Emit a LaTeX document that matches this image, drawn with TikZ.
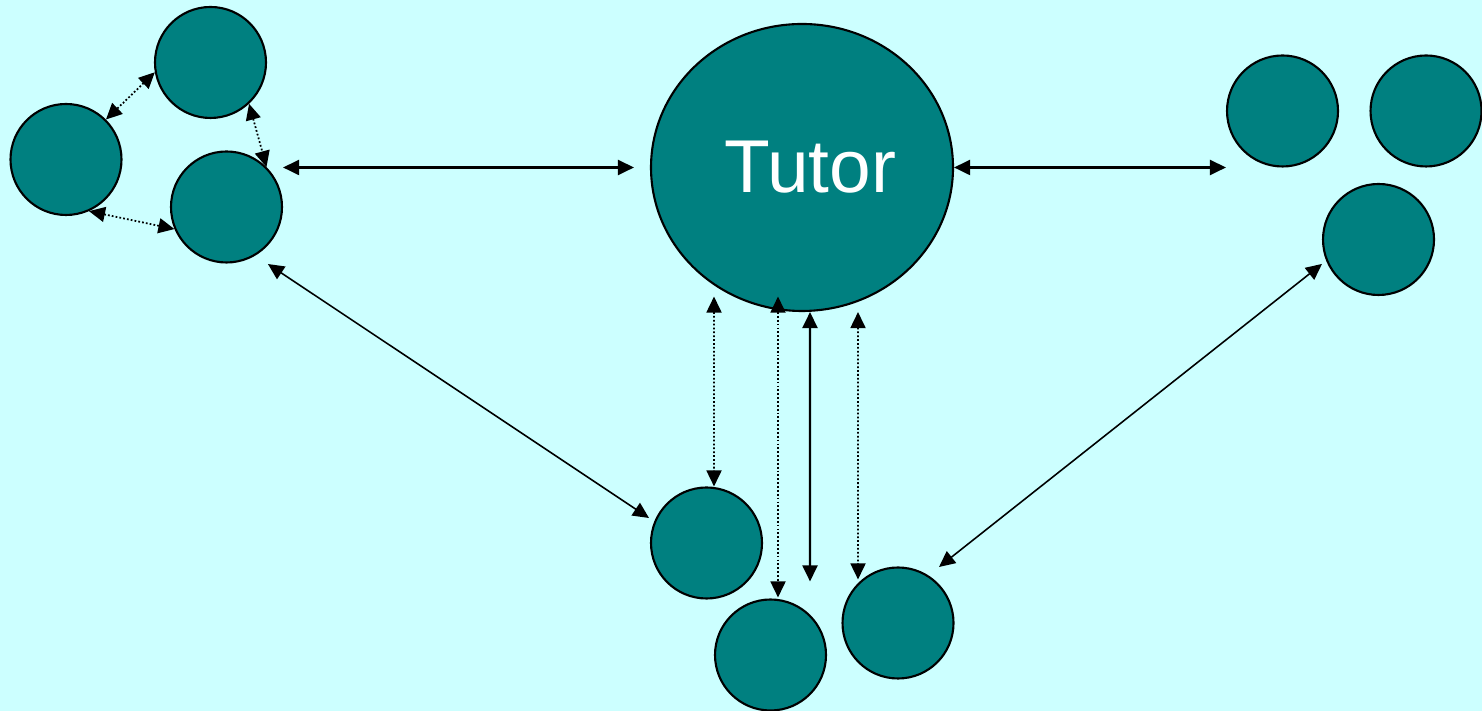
\documentclass[tikz,border=0pt]{standalone}
\usepackage{fontspec}
\setmainfont{Liberation Sans}
\usepackage{tikz}
\usetikzlibrary{calc,arrows.meta,shapes.geometric}
\usepackage{xcolor}
\definecolor{bgcyan}{RGB}{204,255,255}
\definecolor{pupilteal}{RGB}{0,128,128}
\tikzset{
	pupil/.style={circle,draw=black,line width=0.6pt,fill=pupilteal,minimum size=1.11cm,inner sep=0pt},
	tutor/.style={ellipse,draw=black,line width=0.6pt,fill=pupilteal,minimum width=3.02cm,minimum height=2.87cm,inner sep=0pt,text=white,font=\fontsize{21.3}{24}\selectfont},
	link/.style={line width=0.6pt,{Triangle[length=0.16cm,width=0.15cm]}-{Triangle[length=0.16cm,width=0.15cm]}},
	thinlink/.style={link,line width=0.45pt},
	dotlink/.style={link,line width=0.5pt,dash pattern=on 0.5pt off 0.6pt},
}
\newcommand{\pupil}[2]{\node[pupil] (#1) at (#2) {};}

\begin{document}
\begin{tikzpicture}
		\fill[bgcyan] (0,0) rectangle (14.82,7.11);
		\useasboundingbox (0,0) rectangle (14.82,7.11);
		
		\node[tutor] (T) at (8.02,5.435) {\hspace*{0.16cm}Tutor};
		
		\pupil{A}{2.105,6.485}
		\pupil{B}{0.66,5.515}
		\pupil{C}{2.265,5.04}
		
		\pupil{R1}{12.825,6.0}
		\pupil{R2}{14.26,6.0}
		\pupil{R3}{13.785,4.715}
		
		\pupil{B1}{7.065,1.68}
		\pupil{B2}{7.705,0.56}
		\pupil{B3}{8.98,0.88}
		
		\draw[dotlink] (A.190) -- (B.45);
		\draw[dotlink] (A.-47) -- (C.45);
		\draw[dotlink] (B.-66) -- (C.203);
		
		\draw[link] (C.east |- T.west) -- ([xshift=-0.16cm]T.west);
		\draw[link] (T.east) -- (T.east -| R1.west);
		
		\draw[thinlink] ($(C)+(-54:0.705)$) -- ($(B1)+(156.5:0.627)$);
		\draw[thinlink] ($(R3)+(203.4:0.616)$) -- ($(B3)+(53.8:0.694)$);
		
		\draw[dotlink] ($(T.south)+(-0.88,0.155)$) -- ($(B1.north)+(0.075,0)$);
		\draw[dotlink] ($(T.south)+(-0.24,0.155)$) -- ($(B2.north)+(0.075,0.01)$);
		\draw[link] ($(T.south)+(0.08,0)$) -- ($(B2.north)+(0.395,0.17)$);
		\draw[dotlink] ($(T.south)+(0.56,0)$) -- ($(B3.north)+(-0.4,-0.13)$);
		
	\end{tikzpicture}
\end{document}
